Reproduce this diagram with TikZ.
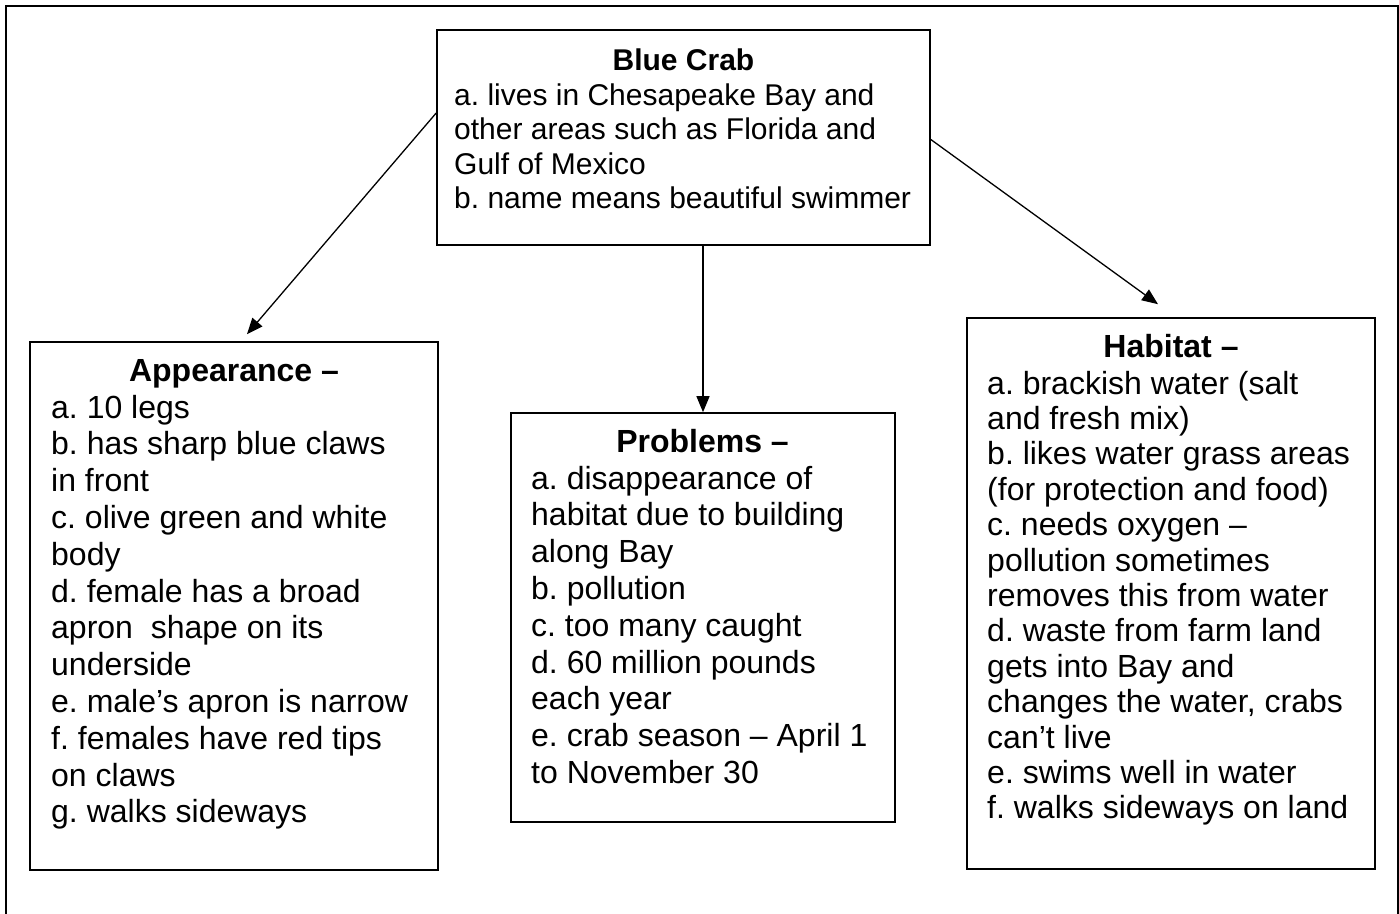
\documentclass[tikz,border=0pt]{standalone}
\usepackage{fontspec}
\setmainfont{Liberation Sans}
\usetikzlibrary{arrows.meta}
\frenchspacing
\begin{document}
\begin{tikzpicture}[x=1pt,y=-1pt,
  box/.style={draw, line width=1.6pt, inner sep=0pt},
  ttl/.style={anchor=base, inner sep=0pt, font=\bfseries\fontsize{32}{36.8}\selectfont},
  ttlsmall/.style={anchor=base, inner sep=0pt, font=\bfseries\fontsize{30}{34.5}\selectfont},
  bodytxt/.style={anchor=north west, inner sep=0pt, align=left, font=\frenchspacing\fontsize{32}{36.8}\selectfont},
  bodytight/.style={anchor=north west, inner sep=0pt, align=left, font=\frenchspacing\fontsize{32}{35.4}\selectfont},
  bodysmall/.style={anchor=north west, inner sep=0pt, align=left, font=\frenchspacing\fontsize{30}{34.5}\selectfont},
  arr/.style={line width=1.3pt, -{Triangle[length=16pt,width=13pt]}},
  frame/.style={line width=2pt}]
\clip (0,0) rectangle (1399,913);
\draw[frame] (6,930) -- (6,6) -- (1398,6) -- (1398,930);

% boxes
\node[box, minimum width=493pt, minimum height=215pt] (crab) at (683.5,137.5) {};
\node[box, minimum width=408pt, minimum height=528pt] (app) at (234,606) {};
\node[box, minimum width=384pt, minimum height=409pt] (prob) at (703,617.5) {};
\node[box, minimum width=408pt, minimum height=551pt] (hab) at (1171,593.5) {};

% texts
\node[ttlsmall] (crabT) at (683.5,70) {Blue Crab};
\node[bodysmall] (crabB) at (454,80.85) {\strut a. lives in Chesapeake Bay and\\ other areas such as Florida and\\ Gulf of Mexico\\ b. name means beautiful swimmer};

\node[ttl] (appT) at (234,381) {Appearance –};
\node[bodytxt] (appB) at (51,392.2) {\strut a. 10 legs\\ b. has sharp blue claws\\ in front\\ c. olive green and white\\ body\\ d. female has a broad\\ apron\ \ shape on its\\ underside\\ e. male’s apron is narrow\\ f. females have red tips\\ on claws\\ g. walks sideways};

\node[ttl] (probT) at (702.5,452) {Problems –};
\node[bodytxt] (probB) at (531,463.2) {\strut a. disappearance of\\ habitat due to building\\ along Bay\\ b. pollution\\ c. too many caught\\ d. 60 million pounds\\ each year\\ e. crab season – April 1\\ to November 30};

\node[ttl] (habT) at (1171,357) {Habitat –};
\node[bodytight] (habB) at (987,369.2) {\strut a. brackish water (salt\\ and fresh mix)\\ b. likes water grass areas\\ (for protection and food)\\ c. needs oxygen –\\ pollution sometimes\\ removes this from water\\ d. waste from farm land\\ gets into Bay and\\ changes the water, crabs\\ can’t live\\ e. swims well in water\\ f. walks sideways on land};

% connectors
\draw[arr] ([yshift=24.5pt]crab.west) -- ([xshift=13pt,yshift=7pt]app.north);
\draw[arr] ([xshift=19.5pt]crab.south) -- (prob.north);
\draw[arr] ([yshift=-2pt]crab.east) -- ([xshift=-13pt,yshift=13pt]hab.north);
\end{tikzpicture}
\end{document}
